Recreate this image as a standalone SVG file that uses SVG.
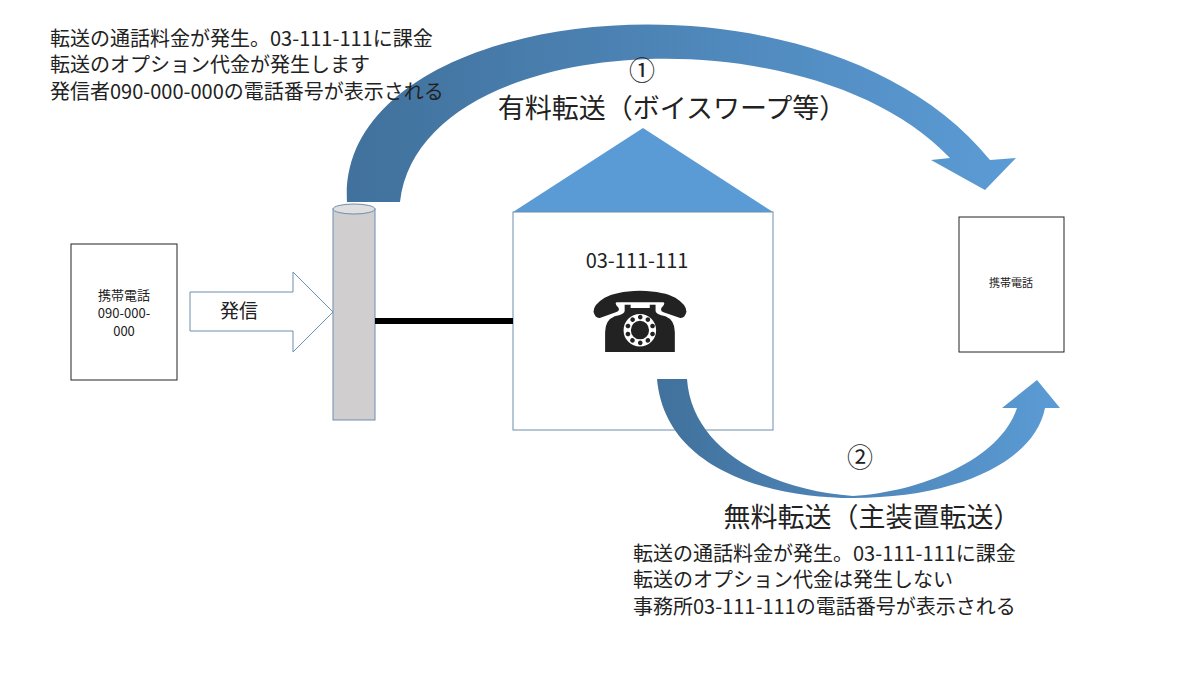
<svg xmlns="http://www.w3.org/2000/svg" width="1200" height="675" viewBox="0 0 1200 675">
<style>
text{font-family:"Noto Sans CJK JP","Liberation Sans",sans-serif;fill:#222}
.box{fill:#fff;stroke:#222;stroke-width:1}
.t{font-size:20px}
</style>
<defs>
<linearGradient id="g" x1="0" y1="0" x2="1" y2="0"><stop offset="0" stop-color="#41719c"/><stop offset="1" stop-color="#5b9bd5"/></linearGradient>
</defs>
<rect width="1200" height="675" fill="#fff"/>
<g id="caller">
<rect class="box" x="71" y="244" width="106" height="136"/>
<text x="124" y="300" font-size="13" text-anchor="middle">携帯電話</text>
<text x="124" y="318" font-size="13" text-anchor="middle">090-000-</text>
<text x="124" y="336" font-size="13" text-anchor="middle">000</text>
</g>
<g id="exchange">
<rect x="333" y="209" width="42" height="211" fill="#d0cece" stroke="#6d8fb0"/>
<ellipse cx="354" cy="209" rx="21" ry="5" fill="#e0dfdf" stroke="#6d8fb0"/>
</g>
<g id="office">
<polygon points="513,212 643,128 773,212" fill="#5b9bd5"/>
<rect x="513" y="212" width="260" height="218" fill="#fff" stroke="#6d8fb0"/>
<text x="637" y="268" font-size="20" text-anchor="middle">03-111-111</text>
<text x="640" y="352" font-size="84" text-anchor="middle" style="font-family:'DejaVu Sans',sans-serif" fill="#000">☎</text>
</g>
<g id="mobile">
<rect class="box" x="959" y="217" width="105" height="135"/>
<text x="1011" y="287" font-size="11" text-anchor="middle">携帯電話</text>
</g>
<g id="connectors">
<path d="M347,202 C335,0 820,-50 990,160 L1016,158 L985,190 L931,160 L950,158 C810,10 420,30 400,202 Z" fill="url(#g)"/>
<path d="M657,379 C665,470 770,498 853,498 C960,498 1035,460 1045,408 L1060,408 L1037,380 L1002,408 L1017,408 C1000,460 920,492 853,496 C770,490 692,450 687,379 Z" fill="url(#g)"/>
<line x1="375" y1="321" x2="513" y2="321" stroke="#000" stroke-width="6"/>
<path d="M190,292 L293,292 L293,272 L333,312 L293,352 L293,331 L190,331 Z" fill="#fff" stroke="#6d8fb0" stroke-width="1"/>
<text x="220" y="318" font-size="19">発信</text>
</g>
<g id="labels">
<text class="t" x="50" y="46">転送の通話料金が発生。03-111-111に課金</text>
<text class="t" x="50" y="72">転送のオプション代金が発生します</text>
<text class="t" x="50" y="99">発信者090-000-000の電話番号が表示される</text>
<text x="642" y="80" font-size="26" text-anchor="middle">①</text>
<text x="672" y="118" font-size="27" text-anchor="middle">有料転送（ボイスワープ等）</text>
<text x="860" y="467" font-size="26" text-anchor="middle">②</text>
<text x="872" y="527" font-size="27" text-anchor="middle">無料転送（主装置転送）</text>
<text class="t" x="633" y="561">転送の通話料金が発生。03-111-111に課金</text>
<text class="t" x="633" y="587">転送のオプション代金は発生しない</text>
<text class="t" x="633" y="614">事務所03-111-111の電話番号が表示される</text>
</g>
</svg>
